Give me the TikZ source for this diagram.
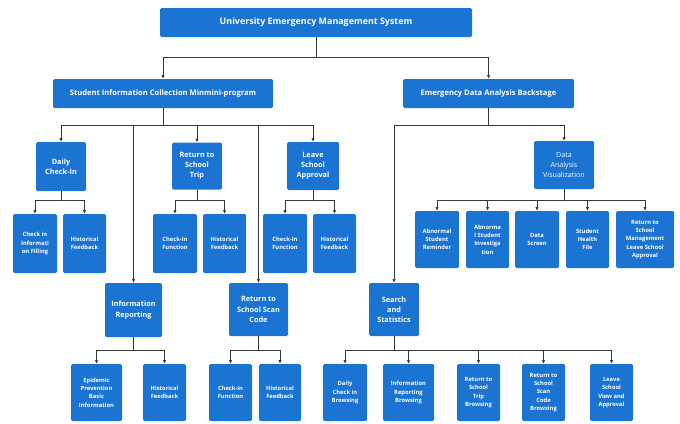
\documentclass[tikz,border=0pt]{standalone}
\usepackage{fontspec}
\setmainfont{Open Sans}
\usetikzlibrary{arrows.meta}
\definecolor{boxblue}{RGB}{27,116,210}
\definecolor{linegray}{RGB}{55,55,55}
\tikzset{
  box/.style={fill=boxblue, draw=none, rounded corners=1.5pt, text=white, align=center, inner sep=0pt},
  toplevel/.style={box, font=\fontsize{8.9}{10}\selectfont\bfseries},
  midlevel/.style={box, font=\fontsize{7.6}{9}\selectfont\bfseries},
  grouplevel/.style={box, font=\fontsize{7.3}{10.2}\selectfont\bfseries},
  grouplight/.style={box, font=\fontsize{7.1}{10.2}\selectfont},
  leaf/.style={box, font=\fontsize{5.8}{8.3}\selectfont\bfseries},
  conn/.style={draw=linegray, line width=0.7pt, -{Latex[length=3.8pt,width=3.4pt]}}
}
\newcommand\mybox[7]{\node[#6, minimum width=#4pt, minimum height=#5pt] (#1) at (#2,#3) {#7};}
\begin{document}
\begin{tikzpicture}[x=1pt,y=-1pt]
\useasboundingbox (0,0) rectangle (680,423);
% bus levels
\coordinate (busA) at (0,57);
\coordinate (busB) at (0,125);
\coordinate (busC) at (0,200);
\coordinate (busD) at (0,350);
% nodes
\mybox{root}{316}{22.5}{312}{29}{toplevel}{University Emergency Management System}
\mybox{si}{163}{93.5}{220}{29}{midlevel}{Student Information Collection Minmini-program}
\mybox{eda}{488.5}{93.5}{171}{29}{midlevel}{Emergency Data Analysis Backstage}
% left group level
\mybox{dci}{61}{166.5}{50}{49}{grouplevel}{Daily\\Check-In}
\mybox{rst}{197}{166}{50}{47}{grouplevel}{Return to\\School\\Trip}
\mybox{lsa}{313}{166}{52}{48}{grouplevel}{Leave\\School\\Approval}
\mybox{ir}{133.5}{310}{57}{54}{grouplevel}{Information\\Reporting}
\mybox{rsc}{258.5}{309.5}{59}{53}{grouplevel}{Return to\\School Scan\\Code}
% right group level
\mybox{dav}{564}{165}{60}{48}{grouplight}{Data\\Analysis\\Visualization}
\mybox{ss}{394}{309.5}{50}{53}{grouplevel}{Search\\and\\Statistics}
% leaves row 1
\mybox{cif}{35}{243.5}{44}{59}{leaf}{Check in\\Informati\\on Filling}
\mybox{hfa}{84.5}{243.5}{43}{59}{leaf}{Historical\\Feedback}
\mybox{cfa}{175}{243.5}{44}{59}{leaf}{Check-In\\Function}
\mybox{hfb}{224.5}{243.5}{43}{59}{leaf}{Historical\\Feedback}
\mybox{cfb}{285}{243.5}{44}{59}{leaf}{Check-In\\Function}
\mybox{hfc}{334.5}{243.5}{43}{59}{leaf}{Historical\\Feedback}
\mybox{asr}{437}{239.5}{44}{57}{leaf}{Abnormal\\Student\\Reminder}
\mybox{asi}{487.5}{239.5}{43}{57}{leaf}{Abnorma\\l Student\\Investiga\\tion}
\mybox{dsc}{537}{239.5}{44}{57}{leaf}{Data\\Screen}
\mybox{shf}{587.5}{239.5}{43}{57}{leaf}{Student\\Health\\File}
\mybox{rsm}{645}{239.5}{58}{57}{leaf}{Return to\\School\\Management\\Leave School\\Approval}
% leaves row 2
\mybox{epi}{96.5}{392.5}{51}{57}{leaf}{Epidemic\\Prevention\\Basic\\Information}
\mybox{hfd}{164.5}{392.5}{43}{57}{leaf}{Historical\\Feedback}
\mybox{cfc}{230.5}{392.5}{43}{57}{leaf}{Check-in\\Function}
\mybox{hfe}{280}{392.5}{42}{57}{leaf}{Historical\\Feedback}
\mybox{dcb}{345}{392.5}{44}{57}{leaf}{Daily\\Check in\\Browsing}
\mybox{irb}{408.5}{392.5}{51}{57}{leaf}{Information\\Reporting\\Browsing}
\mybox{rtb}{478.5}{392.5}{43}{57}{leaf}{Return to\\School\\Trip\\Browsing}
\mybox{rscb}{543.5}{392.5}{43}{57}{leaf}{Return to\\School\\Scan\\Code\\Browsing}
\mybox{lsv}{611.5}{392.5}{43}{57}{leaf}{Leave\\School\\View and\\Approval}
% connectors
\foreach \c in {si,eda} \draw[conn] (root.south) -- (root.south |- busA) -| (\c.north);
\foreach \c in {dci,ir,rst,rsc,lsa} \draw[conn] (si.south) -- (si.south |- busB) -| (\c.north);
\foreach \c in {ss,dav} \draw[conn] (eda.south) -- (eda.south |- busB) -| (\c.north);
\foreach \c in {cif,hfa} \draw[conn] (dci.south) -- (dci.south |- busC) -| (\c.north);
\foreach \c in {cfa,hfb} \draw[conn] (rst.south) -- (rst.south |- busC) -| (\c.north);
\foreach \c in {cfb,hfc} \draw[conn] (lsa.south) -- (lsa.south |- busC) -| (\c.north);
\foreach \c in {asr,asi,dsc,shf,rsm} \draw[conn] (dav.south) -- (dav.south |- busC) -| (\c.north);
\foreach \c in {epi,hfd} \draw[conn] (ir.south) -- (ir.south |- busD) -| (\c.north);
\foreach \c in {cfc,hfe} \draw[conn] (rsc.south) -- (rsc.south |- busD) -| (\c.north);
\foreach \c in {dcb,irb,rtb,rscb,lsv} \draw[conn] (ss.south) -- (ss.south |- busD) -| (\c.north);
\end{tikzpicture}
\end{document}
